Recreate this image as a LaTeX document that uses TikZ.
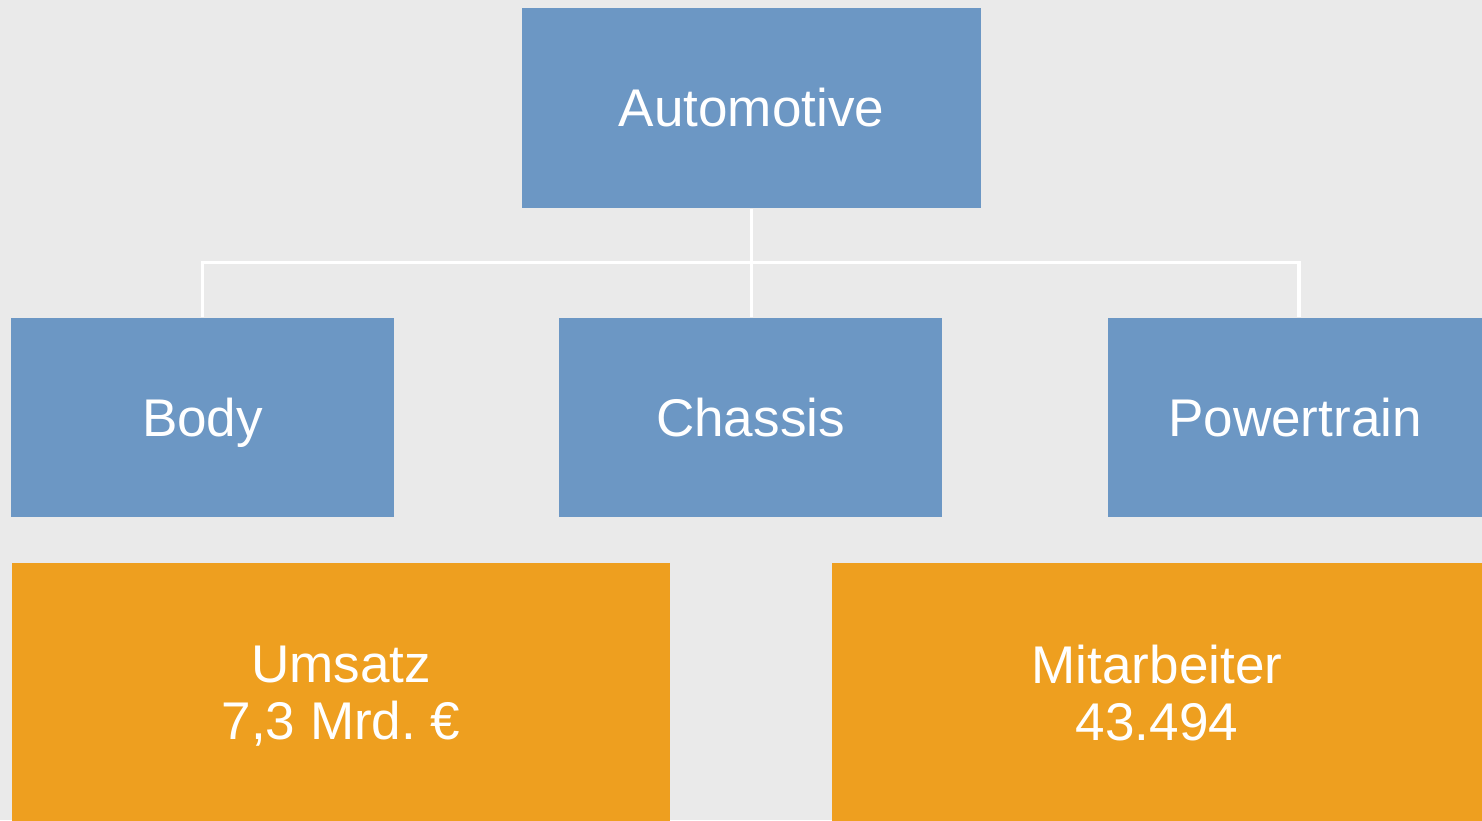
\documentclass[tikz,border=0pt]{standalone}
\usepackage{fontspec}
\setmainfont{Liberation Sans}
\usetikzlibrary{positioning, calc, backgrounds}

\definecolor{bgrey}{HTML}{EAEAEA}
\definecolor{unitblue}{HTML}{6C97C4}
\definecolor{kpiorange}{HTML}{EE9F1F}

\begin{document}
\begin{tikzpicture} [
    unit/.style={rectangle, fill=unitblue, inner sep=0pt, minimum width=3.83cm, minimum height=1.99cm, text=white, font=\fontsize{15.1}{16.2}\selectfont, align=center, text height=10.8pt, text depth=0pt},
    kpi/.style={rectangle, fill=kpiorange, inner sep=0pt, minimum width=6.5cm, minimum height=2.59cm, text=white, font=\fontsize{15.1}{16.2}\selectfont, align=center, text depth=0pt},
    conn/.style={draw=white, line width=1pt}
]

% Canvas
\begin{scope}[on background layer]
    \fill[bgrey] (0,0) rectangle (14.82,-8.2);
\end{scope}
\useasboundingbox (0,0) rectangle (14.82,-8.2);

% Top unit
\node[unit, minimum width=4.59cm, minimum height=2cm] (auto) at (7.515,-1.08) {Automotive};

% Divisions
\node[unit] (body) at (2.025,-4.175) {Body};
\node[unit] (chassis) at (7.505,-4.175) {Chassis};
\node[unit, minimum width=3.74cm] (power) at (12.95,-4.175) {Powertrain};

% Key figures
\node[kpi, minimum width=6.58cm] (sales) at (3.41,-6.925) {Umsatz\\7,3 Mrd.\ €};
\node[kpi] (staff) at (11.57,-6.925) {Mitarbeiter\\43.494};

% Connectors
\coordinate (hub) at ($(auto.south)+(0,-0.54)$);
\draw[conn] (auto.south) -- (hub);
\draw[conn] (hub) -| (body.north);
\draw[conn] (hub) -- (chassis.north -| hub);
\draw[conn] (hub) -| ([xshift=0.04cm]power.north);

\end{tikzpicture}
\end{document}
